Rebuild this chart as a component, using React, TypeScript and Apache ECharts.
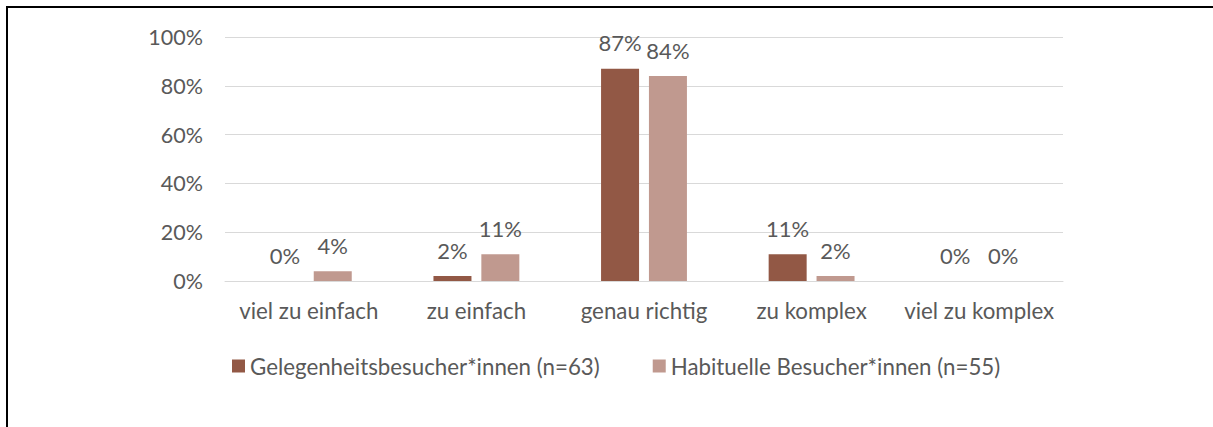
import React, { useEffect, useRef } from "react";
import * as echarts from "echarts";

const categories = ["viel zu einfach", "zu einfach", "genau richtig", "zu komplex", "viel zu komplex"];
const gelegenheit = [0, 2, 87, 11, 0];
const habituell = [4, 11, 84, 2, 0];
const seriesNames = ["Gelegenheitsbesucher*innen (n=63)", "Habituelle Besucher*innen (n=55)"];
const yTicks = [0, 20, 40, 60, 80, 100];

const FONT = "Lato";
const TEXT = "#595959";

export default function App() {
  const ref = useRef<HTMLDivElement>(null);
  useEffect(() => {
    document.body.style.margin = "0";
    const chart = echarts.init(ref.current!, null, { renderer: "svg" });
    const label = {
      show: true,
      position: "top",
      distance: 15,
      formatter: (p: any) => p.value + "%",
      color: TEXT,
      fontFamily: FONT,
      fontSize: 22,
    };
    chart.setOption({
      animation: false,
      backgroundColor: "#ffffff",
      textStyle: { fontFamily: FONT },
      grid: { left: 225, right: 150, top: 37, bottom: 146, containLabel: false },
      legend: {
        left: 227,
        top: 350,
        icon: "rect",
        itemWidth: 13,
        itemHeight: 13,
        itemGap: 53,
        textStyle: { color: TEXT, fontFamily: FONT, fontSize: 22.3 },
        data: seriesNames,
      },
      xAxis: {
        type: "category",
        data: categories,
        axisTick: { show: false },
        axisLine: { lineStyle: { color: "#d9d9d9" } },
        axisLabel: { color: TEXT, fontFamily: FONT, fontSize: 22.3, margin: 18, interval: 0 },
      },
      yAxis: {
        type: "value",
        min: yTicks[0],
        max: yTicks[yTicks.length - 1],
        interval: 20,
        axisLabel: { color: TEXT, fontFamily: FONT, fontSize: 21.5, margin: 22, formatter: "{value}%" },
        splitLine: { lineStyle: { color: "#d9d9d9" } },
        axisLine: { show: false },
        axisTick: { show: false },
      },
      series: [
        {
          name: seriesNames[0],
          type: "bar",
          data: gelegenheit,
          barWidth: 38,
          barGap: "26%",
          itemStyle: { color: "#925845" },
          label,
        },
        {
          name: seriesNames[1],
          type: "bar",
          data: habituell,
          barWidth: 38,
          itemStyle: { color: "#c0998f" },
          label,
        },
      ],
      graphic: [
        { type: "line", shape: { x1: 6, y1: 7, x2: 1213, y2: 7 }, style: { stroke: "#000", lineWidth: 2 } },
        { type: "line", shape: { x1: 7, y1: 6, x2: 7, y2: 427 }, style: { stroke: "#000", lineWidth: 2 } },
      ],
    });
    return () => chart.dispose();
  }, []);
  return <div ref={ref} style={{ width: 1213, height: 427 }} />;
}
